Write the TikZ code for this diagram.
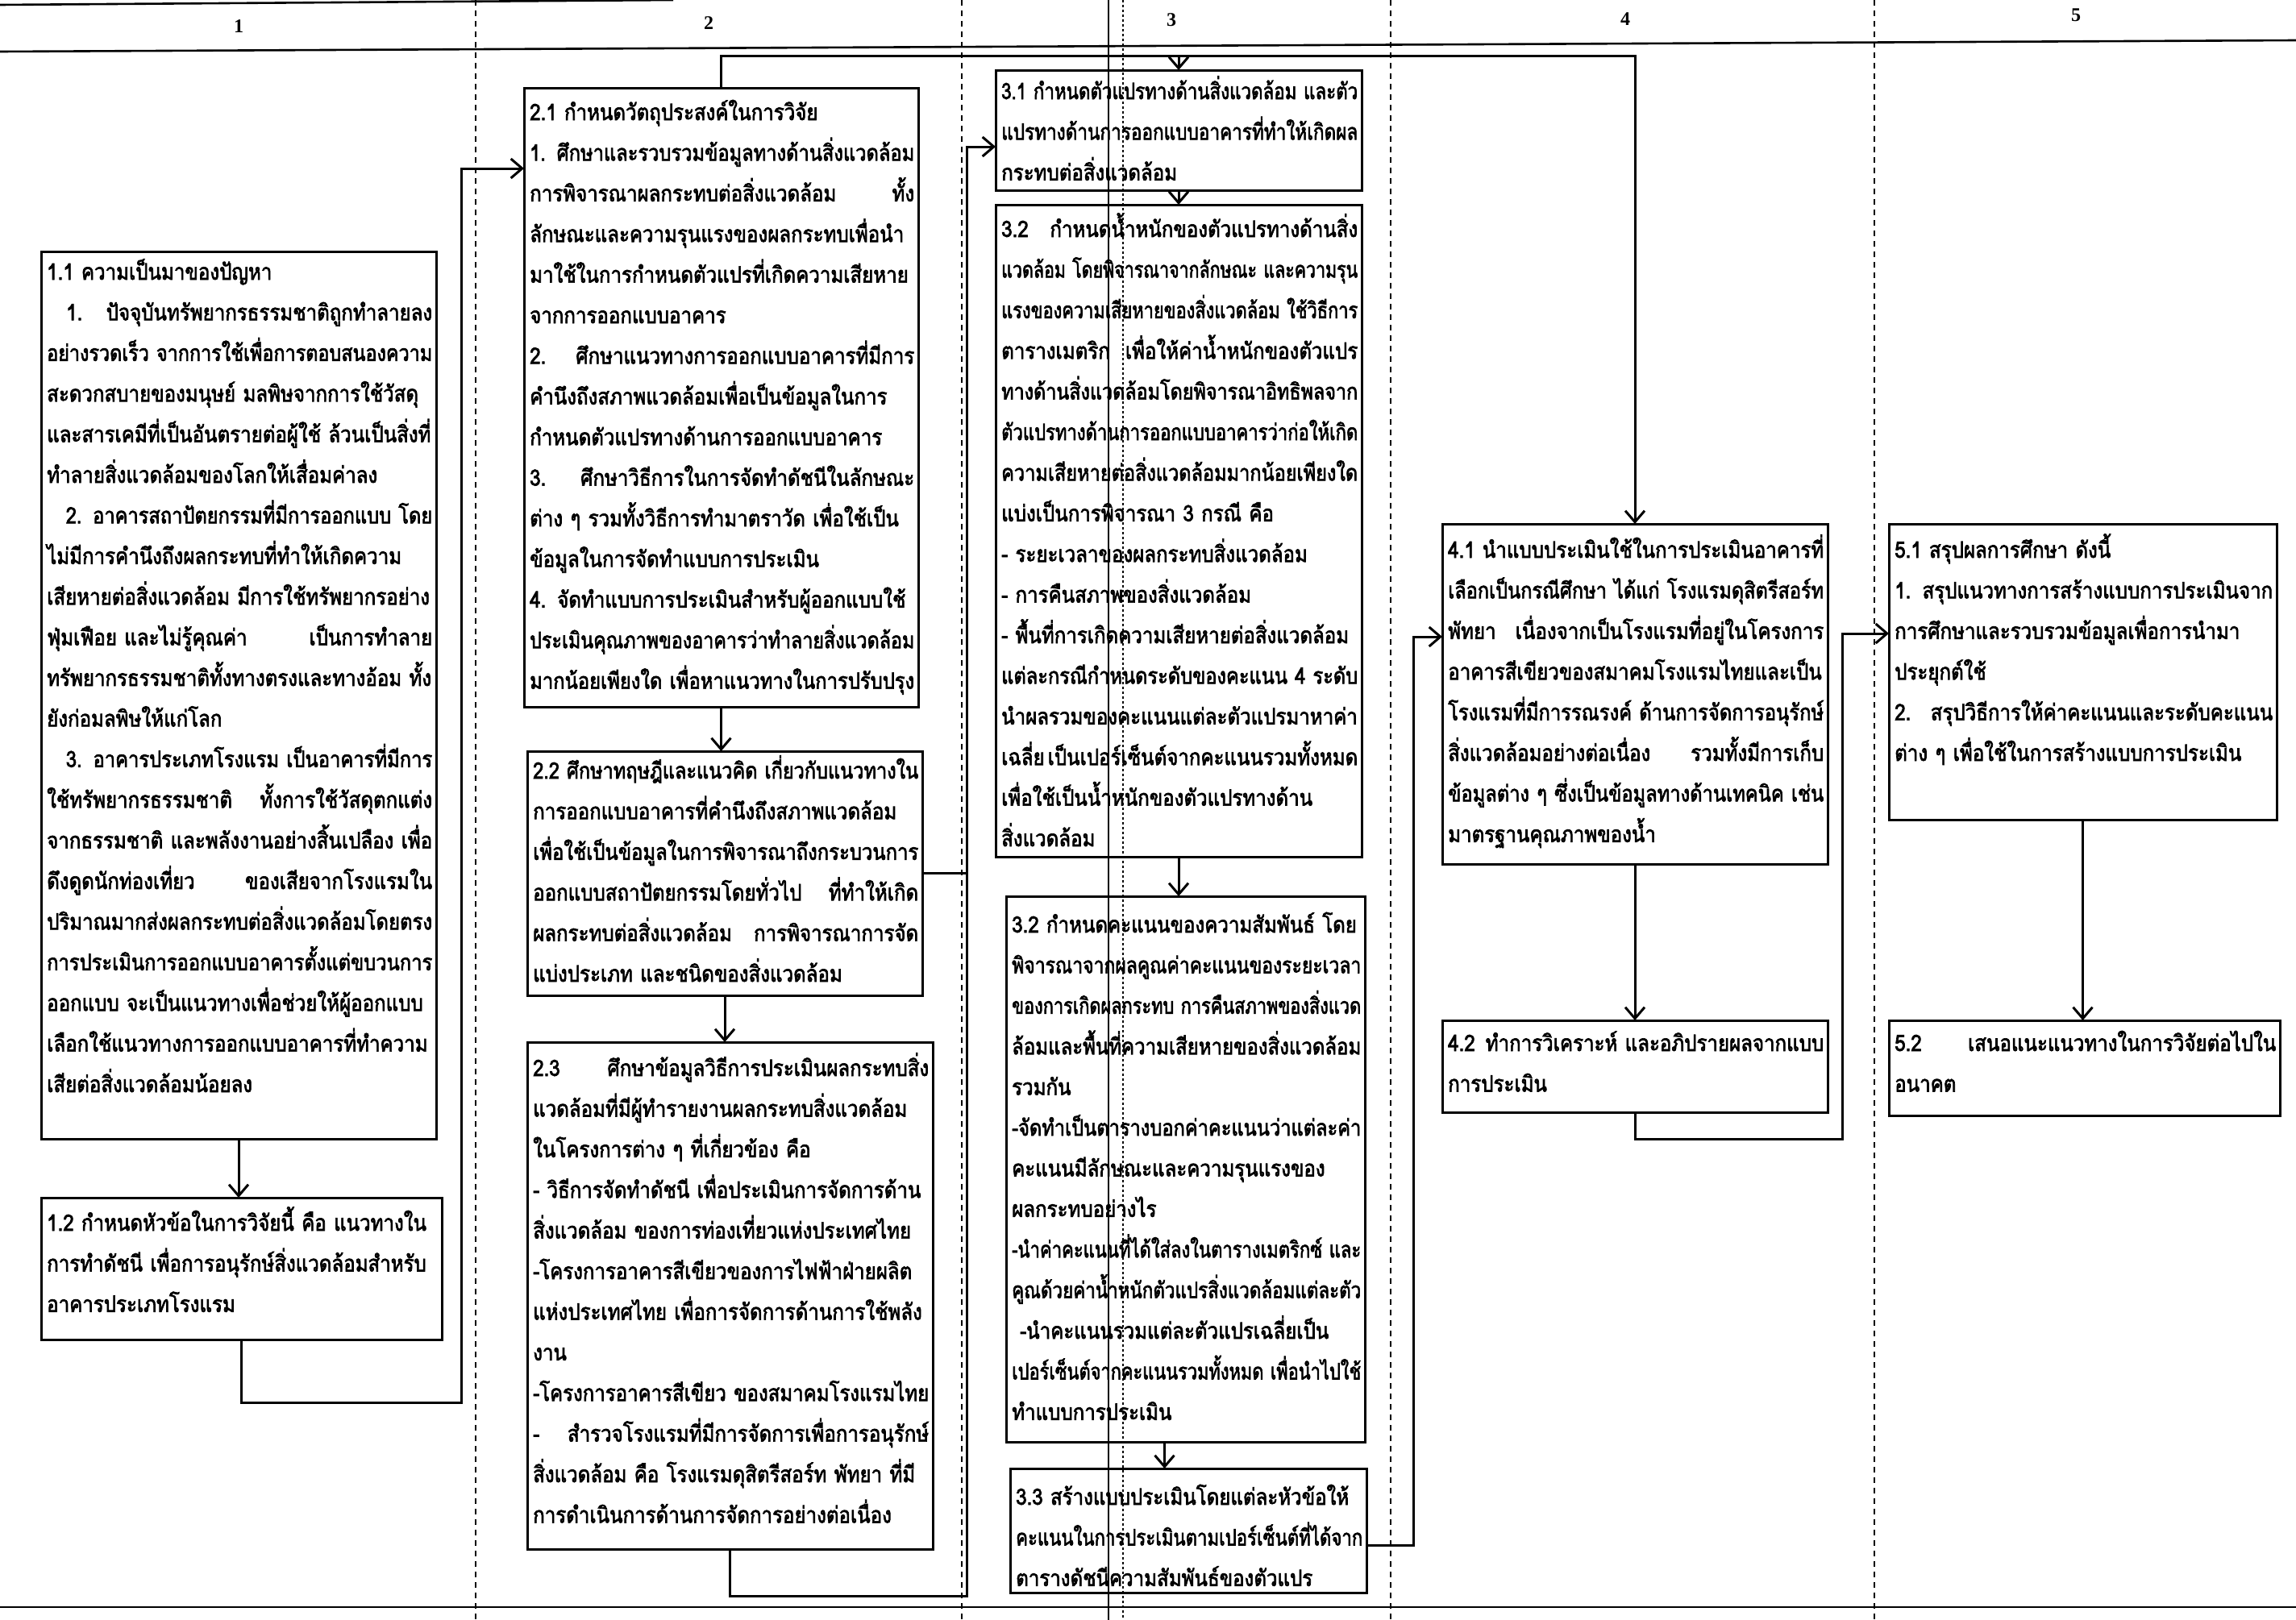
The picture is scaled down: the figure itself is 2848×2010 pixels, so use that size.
\documentclass[tikz,border=0pt]{standalone}
\usepackage{fontspec}
\usepackage{graphicx}
\setmainfont{Liberation Serif}
\newfontfamily\thai[Script=Thai, FakeStretch=0.86, FakeBold=2.4]{Loma}
\usetikzlibrary{arrows.meta}
\newsavebox\jbox
\newcommand\J[1]{\sbox\jbox{#1}\ifdim\wd\jbox>\linewidth\pgfmathsetmacro\jr{\linewidth/\wd\jbox}\scalebox{\jr}[1]{\usebox\jbox}\else\makebox[\linewidth][s]{#1}\fi}
\newcommand\Ln[1]{\sbox\jbox{#1}\ifdim\wd\jbox>\linewidth\pgfmathsetmacro\jr{\linewidth/\wd\jbox}\scalebox{\jr}[1]{\usebox\jbox}\else\makebox[\linewidth][l]{#1}\fi}
\newcommand\tb[8]{%
  \node[box, minimum width=#4pt, minimum height=#5pt] (#1) at (#2,#3) {};
  \node[txt, text width=#6pt] (#1t) at ([xshift=7pt,yshift=-#7pt]#1.north west) {#8};}
\begin{document}
\begin{tikzpicture}[x=1pt,y=-1pt,
  box/.style={draw, line width=3pt, anchor=north west, inner sep=0pt, outer sep=0pt},
  txt/.style={anchor=base west, inner sep=0pt, align=left, font=\thai\fontsize{28}{50.4}\selectfont},
  conn/.style={line width=3pt},
  arr/.style={line width=3pt, -{Straight Barb[length=14pt,width=24pt,line width=3pt]}},
  divider/.style={line width=1.6pt, dash pattern=on 7pt off 6pt},
  rule/.style={line width=2.6pt},
  hdr/.style={font=\bfseries\fontsize{24}{24}\selectfont, inner sep=0pt}]
\useasboundingbox (0,0) rectangle (2848,2010);
\fill[white] (0,0) rectangle (2848,2010);

% header and rules
\draw[rule] (0,6) -- (835,0);
\draw[rule] (0,64) -- (2848,50);
\draw[rule] (0,1994) -- (2848,1994);
\foreach \xx in {590,1193,1725,2325} \draw[divider] (\xx,0) -- (\xx,2010);
\draw[line width=1.6pt] (1375,0) -- (1375,2010);
\draw[line width=1.2pt, dash pattern=on 3pt off 3pt] (1393,0) -- (1393,2010);
\node[hdr] (h1) at (296,33) {1};
\node[hdr] (h2) at (879,29) {2};
\node[hdr] (h3) at (1453,25) {3};
\node[hdr] (h4) at (2016,24) {4};
\node[hdr] (h5) at (2575,19) {5};

% column 1
\tb{b11}{51}{312}{490}{1101}{478}{35}{%
\Ln{1.1 ความเป็นมาของปัญหา}\\
\J{\hspace*{24pt}1.\hfill ปัจจุบันทรัพยากรธรรมชาติถูกทำลายลง}\\
\J{อย่างรวดเร็ว จากการใช้เพื่อการตอบสนองความ}\\
\J{สะดวกสบายของมนุษย์ มลพิษจากการใช้วัสดุ}\\
\J{และสารเคมีที่เป็นอันตรายต่อผู้ใช้ ล้วนเป็นสิ่งที่}\\
\Ln{ทำลายสิ่งแวดล้อมของโลกให้เสื่อมค่าลง}\\
\J{\hspace*{24pt}2. อาคารสถาปัตยกรรมที่มีการออกแบบ โดย}\\
\J{ไม่มีการคำนึงถึงผลกระทบที่ทำให้เกิดความ}\\
\J{เสียหายต่อสิ่งแวดล้อม มีการใช้ทรัพยากรอย่าง}\\
\J{ฟุ่มเฟือย และไม่รู้คุณค่า\hfill เป็นการทำลาย}\\
\J{ทรัพยากรธรรมชาติทั้งทางตรงและทางอ้อม ทั้ง}\\
\Ln{ยังก่อมลพิษให้แก่โลก}\\
\J{\hspace*{24pt}3. อาคารประเภทโรงแรม เป็นอาคารที่มีการ}\\
\J{ใช้ทรัพยากรธรรมชาติ\hfill ทั้งการใช้วัสดุตกแต่ง}\\
\J{จากธรรมชาติ และพลังงานอย่างสิ้นเปลือง เพื่อ}\\
\J{ดึงดูดนักท่องเที่ยว\hfill ของเสียจากโรงแรมใน}\\
\J{ปริมาณมากส่งผลกระทบต่อสิ่งแวดล้อมโดยตรง}\\
\J{การประเมินการออกแบบอาคารตั้งแต่ขบวนการ}\\
\J{ออกแบบ จะเป็นแนวทางเพื่อช่วยให้ผู้ออกแบบ}\\
\J{เลือกใช้แนวทางการออกแบบอาคารที่ทำความ}\\
\Ln{เสียต่อสิ่งแวดล้อมน้อยลง}}
\tb{b12}{51}{1486}{497}{176}{485}{41}{%
\J{1.2 กำหนดหัวข้อในการวิจัยนี้ คือ แนวทางใน}\\
\J{การทำดัชนี เพื่อการอนุรักษ์สิ่งแวดล้อมสำหรับ}\\
\Ln{อาคารประเภทโรงแรม}}

% column 2
\tb{b21}{650}{109}{489}{768}{477}{40}{%
\Ln{2.1 กำหนดวัตถุประสงค์ในการวิจัย}\\
\J{1. ศึกษาและรวบรวมข้อมูลทางด้านสิ่งแวดล้อม}\\
\J{การพิจารณาผลกระทบต่อสิ่งแวดล้อม\hfill ทั้ง}\\
\J{ลักษณะและความรุนแรงของผลกระทบเพื่อนำ}\\
\J{มาใช้ในการกำหนดตัวแปรที่เกิดความเสียหาย}\\
\Ln{จากการออกแบบอาคาร}\\
\J{2.\hfill ศึกษาแนวทางการออกแบบอาคารที่มีการ}\\
\J{คำนึงถึงสภาพแวดล้อมเพื่อเป็นข้อมูลในการ}\\
\Ln{กำหนดตัวแปรทางด้านการออกแบบอาคาร}\\
\J{3.\hfill ศึกษาวิธีการในการจัดทำดัชนีในลักษณะ}\\
\J{ต่าง ๆ รวมทั้งวิธีการทำมาตราวัด เพื่อใช้เป็น}\\
\Ln{ข้อมูลในการจัดทำแบบการประเมิน}\\
\J{4. จัดทำแบบการประเมินสำหรับผู้ออกแบบใช้}\\
\J{ประเมินคุณภาพของอาคารว่าทำลายสิ่งแวดล้อม}\\
\J{มากน้อยเพียงใด เพื่อหาแนวทางในการปรับปรุง}}
\tb{b22}{654}{932}{490}{303}{478}{34}{%
\J{2.2 ศึกษาทฤษฎีและแนวคิด เกี่ยวกับแนวทางใน}\\
\J{การออกแบบอาคารที่คำนึงถึงสภาพแวดล้อม}\\
\J{เพื่อใช้เป็นข้อมูลในการพิจารณาถึงกระบวนการ}\\
\J{ออกแบบสถาปัตยกรรมโดยทั่วไป\hfill ที่ทำให้เกิด}\\
\J{ผลกระทบต่อสิ่งแวดล้อม\hfill การพิจารณาการจัด}\\
\Ln{แบ่งประเภท และชนิดของสิ่งแวดล้อม}}
\tb{b23}{654}{1293}{503}{629}{491}{42}{%
\J{2.3\hfill ศึกษาข้อมูลวิธีการประเมินผลกระทบสิ่ง}\\
\J{แวดล้อมที่มีผู้ทำรายงานผลกระทบสิ่งแวดล้อม}\\
\Ln{ในโครงการต่าง ๆ ที่เกี่ยวข้อง คือ}\\
\J{- วิธีการจัดทำดัชนี เพื่อประเมินการจัดการด้าน}\\
\J{สิ่งแวดล้อม ของการท่องเที่ยวแห่งประเทศไทย}\\
\J{-โครงการอาคารสีเขียวของการไฟฟ้าฝ่ายผลิต}\\
\J{แห่งประเทศไทย เพื่อการจัดการด้านการใช้พลัง}\\
\Ln{งาน}\\
\J{-โครงการอาคารสีเขียว ของสมาคมโรงแรมไทย}\\
\J{-\hfill สำรวจโรงแรมที่มีการจัดการเพื่อการอนุรักษ์}\\
\J{สิ่งแวดล้อม คือ โรงแรมดุสิตรีสอร์ท พัทยา ที่มี}\\
\Ln{การดำเนินการด้านการจัดการอย่างต่อเนื่อง}}

% column 3
\tb{b31}{1235}{87}{454}{149}{442}{36}{%
\J{3.1 กำหนดตัวแปรทางด้านสิ่งแวดล้อม และตัว}\\
\Ln{แปรทางด้านการออกแบบอาคารที่ทำให้เกิดผล}\\
\Ln{กระทบต่อสิ่งแวดล้อม}}
\tb{b32}{1235}{254}{454}{809}{442}{40}{%
\J{3.2\hfill กำหนดน้ำหนักของตัวแปรทางด้านสิ่ง}\\
\J{แวดล้อม โดยพิจารณาจากลักษณะ และความรุน}\\
\J{แรงของความเสียหายของสิ่งแวดล้อม ใช้วิธีการ}\\
\J{ตารางเมตริก\hfill เพื่อให้ค่าน้ำหนักของตัวแปร}\\
\J{ทางด้านสิ่งแวดล้อม\hfill โดยพิจารณาอิทธิพลจาก}\\
\J{ตัวแปรทางด้านการออกแบบอาคารว่าก่อให้เกิด}\\
\J{ความเสียหายต่อสิ่งแวดล้อมมากน้อยเพียงใด}\\
\Ln{แบ่งเป็นการพิจารณา 3 กรณี คือ}\\
\Ln{- ระยะเวลาของผลกระทบสิ่งแวดล้อม}\\
\Ln{- การคืนสภาพของสิ่งแวดล้อม}\\
\Ln{- พื้นที่การเกิดความเสียหายต่อสิ่งแวดล้อม}\\
\J{แต่ละกรณีกำหนดระดับของคะแนน 4 ระดับ}\\
\J{นำผลรวมของคะแนนแต่ละตัวแปรมาหาค่า}\\
\J{เฉลี่ย\hfill เป็นเปอร์เซ็นต์จากคะแนนรวมทั้งหมด}\\
\J{เพื่อใช้เป็นน้ำหนักของตัวแปรทางด้าน}\\
\Ln{สิ่งแวดล้อม}}
\tb{b32b}{1248}{1112}{445}{677}{433}{45}{%
\J{3.2 กำหนดคะแนนของความสัมพันธ์ โดย}\\
\J{พิจารณาจากผลคูณค่าคะแนน\hfill ของระยะเวลา}\\
\J{ของการเกิดผลกระทบ การคืนสภาพของสิ่งแวด}\\
\J{ล้อม\hfill และพื้นที่ความเสียหายของสิ่งแวดล้อม}\\
\Ln{รวมกัน}\\
\J{-จัดทำเป็นตารางบอกค่าคะแนนว่าแต่ละค่า}\\
\J{คะแนนมีลักษณะและความรุนแรงของ}\\
\Ln{ผลกระทบอย่างไร}\\
\J{-นำค่าคะแนนที่ได้ใส่ลงในตารางเมตริกซ์ และ}\\
\J{คูณด้วยค่าน้ำหนักตัวแปรสิ่งแวดล้อมแต่ละตัว}\\
\J{\hspace*{10pt}-นำคะแนนรวมแต่ละตัวแปรเฉลี่ยเป็น}\\
\J{เปอร์เซ็นต์จากคะแนนรวมทั้งหมด เพื่อนำไปใช้}\\
\Ln{ทำแบบการประเมิน}}
\tb{b33}{1253}{1822}{442}{154}{430}{45}{%
\Ln{3.3 สร้างแบบประเมินโดยแต่ละหัวข้อให้}\\
\Ln{คะแนนในการประเมินตามเปอร์เซ็นต์ที่ได้จาก}\\
\Ln{ตารางดัชนีความสัมพันธ์ของตัวแปร}}

% column 4
\tb{b41}{1789}{650}{478}{422}{466}{42}{%
\J{4.1\hfill นำแบบประเมินใช้ในการประเมินอาคารที่}\\
\J{เลือกเป็นกรณีศึกษา ได้แก่ โรงแรมดุสิตรีสอร์ท}\\
\J{พัทยา\hfill เนื่องจากเป็นโรงแรมที่อยู่ในโครงการ}\\
\J{อาคารสีเขียวของสมาคมโรงแรมไทยและเป็น}\\
\J{โรงแรมที่มีการรณรงค์ ด้านการจัดการอนุรักษ์}\\
\J{สิ่งแวดล้อมอย่างต่อเนื่อง\hfill รวมทั้งมีการเก็บ}\\
\J{ข้อมูลต่าง ๆ ซึ่งเป็นข้อมูลทางด้านเทคนิค เช่น}\\
\Ln{มาตรฐานคุณภาพของน้ำ}}
\tb{b42}{1789}{1266}{478}{114}{466}{38}{%
\J{4.2\hfill ทำการวิเคราะห์ และอภิปรายผลจากแบบ}\\
\Ln{การประเมิน}}

% column 5
\tb{b51}{2343}{650}{481}{367}{469}{42}{%
\Ln{5.1 สรุปผลการศึกษา ดังนี้}\\
\J{1.\hfill สรุปแนวทางการสร้างแบบการประเมินจาก}\\
\J{การศึกษาและรวบรวมข้อมูลเพื่อการนำมา}\\
\Ln{ประยุกต์ใช้}\\
\J{2.\hfill สรุปวิธีการให้ค่าคะแนนและระดับคะแนน}\\
\Ln{ต่าง ๆ เพื่อใช้ในการสร้างแบบการประเมิน}}
\tb{b52}{2343}{1266}{485}{118}{473}{38}{%
\J{5.2\hfill เสนอแนะแนวทางในการวิจัยต่อไปใน}\\
\Ln{อนาคต}}

% waypoints
\coordinate (top) at (0,70);
\coordinate (w1) at (572,1740);
\coordinate (w2) at (572,209);
\coordinate (w5) at (1199,1980);
\coordinate (w6) at (1199,182);
\coordinate (w7) at (1753,1917);
\coordinate (w8) at (1753,790);
\coordinate (w9) at (2285,1413);
\coordinate (w10) at (2285,786);

% connectors
\draw[arr] (b11.south) -- (b11.south |- b12.north);
\draw[arr] (b12.south) |- (w1) -- (w2) -- (b21.west |- w2);
\draw[arr] (b21.north) -- (b21.north |- top) -| (b41.north);
\draw[arr] (b31.north |- top) -- (b31.north);
\draw[arr] (b21.south) -- (b21.south |- b22.north);
\draw[arr] (b22.south) -- (b22.south |- b23.north);
\draw[arr] (b23.south) |- (w5) -- (w6) -- (b31.west |- w6);
\draw[conn] (b22.east) -- (b22.east -| w5);
\draw[arr] (b31.south) -- (b31.south |- b32.north);
\draw[arr] (b32.south) -- (b32.south |- b32b.north);
\draw[arr] ([xshift=-26pt]b32b.south) -- ([xshift=-26pt]b32b.south |- b33.north);
\draw[arr] (b33.east |- w7) -- (w7) -- (w8) -- (b41.west |- w8);
\draw[arr] (b41.south) -- (b41.south |- b42.north);
\draw[arr] (b42.south) |- (w9) -- (w10) -- (b51.west |- w10);
\draw[arr] (b51.south) -- (b51.south |- b52.north);
\end{tikzpicture}
\end{document}
